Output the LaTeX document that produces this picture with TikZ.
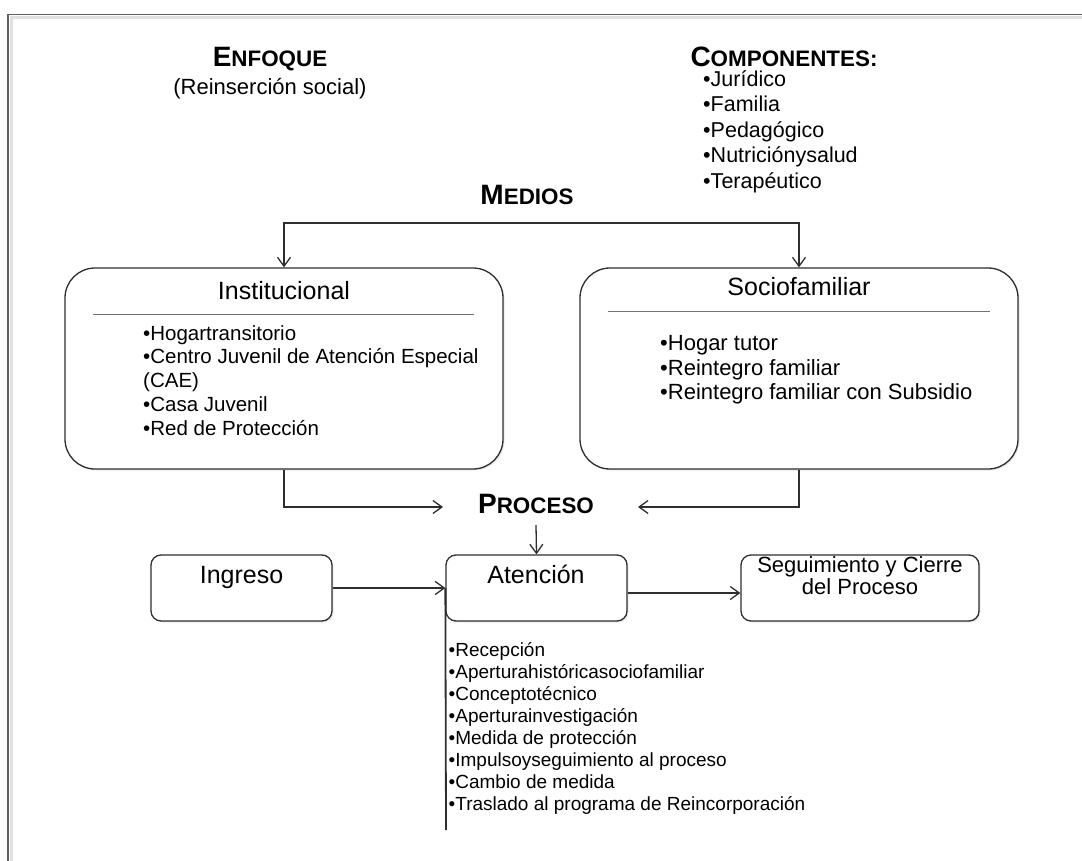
\documentclass[tikz,border=0pt]{standalone}
\usepackage{fontspec}
\setmainfont{Liberation Sans}
\usetikzlibrary{arrows.meta,shadows}
\newcommand\hdr[2]{{\fontsize{28}{30}\selectfont\bfseries #1}{\fontsize{22.4}{30}\selectfont\bfseries #2}}
\newcommand\fs[1]{\fontsize{#1}{#1}\selectfont}
\definecolor{lnc}{HTML}{2E2E2E}
\tikzset{
  arr/.style={-{Straight Barb[length=9pt,width=13pt]}, line width=1.3pt, draw=lnc},
  arrs/.style={{Straight Barb[length=9pt,width=13pt]}-{Straight Barb[length=9pt,width=13pt]}, line width=1.3pt, draw=lnc},
  plain/.style={line width=1.3pt, draw=lnc},
  sepline/.style={line width=0.8pt, draw=black!55},
  bigbox/.style={draw=lnc, line width=1.3pt, fill=white, rounded corners=30pt, inner sep=0pt,
    drop shadow={shadow xshift=1.5pt, shadow yshift=-1.5pt, opacity=0.18}},
  smallbox/.style={draw=lnc, line width=1.3pt, fill=white, rounded corners=10pt, inner sep=0pt,
    drop shadow={shadow xshift=1.5pt, shadow yshift=-1.5pt, opacity=0.18}},
  txt/.style={inner sep=0pt, anchor=base},
  itm/.style={inner sep=0pt, anchor=base west},
}
\begin{document}
\begin{tikzpicture}[x=1pt,y=-1pt]
\useasboundingbox (0,0) rectangle (1082,861);
% frame
\draw[black!12, line width=3pt] (1082,18) -- (11,18) -- (11,861);
\draw[black!62, line width=1.8pt] (1082,14.5) -- (7.6,14.5) -- (7.6,861);

% headers
\node[txt] (enf) at (270,67) {\hdr{E}{NFOQUE}};
\node[txt] (reins) at (270,95) {\fs{22}(Reinserción social)};
\node[txt] (comp) at (784,67) {\hdr{C}{OMPONENTES:}};
\foreach \t [count=\i] in {Jurídico,Familia,Pedagógico,Nutriciónysalud,Terapéutico}
  \node[itm] (comp\i) at (703,{61+25.5*\i}) {\fs{21.5}•\t};
\node[txt] (medios) at (527,205) {\hdr{M}{EDIOS}};

% big boxes
\node[bigbox, minimum width=438pt, minimum height=201pt] (inst) at (284,368.5) {};
\node[bigbox, minimum width=438pt, minimum height=201pt] (socio) at (799,368.5) {};
\node[txt] (insttitle) at (284,299) {\fs{25}Institucional};
\draw[sepline] (93,314) -- (474,314);
\node[itm] (inst1) at (143,340) {\fs{20.5}•Hogartransitorio};
\node[itm] (inst2) at (143,363.5) {\fs{20.5}•Centro Juvenil de Atención Especial};
\node[itm] (inst3) at (143,387) {\fs{20.5}(CAE)};
\node[itm] (inst4) at (143,411) {\fs{20.5}•Casa Juvenil};
\node[itm] (inst5) at (143,435) {\fs{20.5}•Red de Protección};

\node[txt] (sociotitle) at (799,295) {\fs{25}Sociofamiliar};
\draw[sepline] (608,311) -- (990,311);
\node[itm] (socio1) at (660,350) {\fs{22}•Hogar tutor};
\node[itm] (socio2) at (660,375) {\fs{22}•Reintegro familiar};
\node[itm] (socio3) at (660,399.5) {\fs{22}•Reintegro familiar con Subsidio};

% medios connector
\coordinate (mm) at (527,223);
\draw[arrs] (inst.north) |- (mm) -| (socio.north);

% proceso
\node[txt] (proceso) at (536,513) {\hdr{P}{ROCESO}};
\coordinate (pL) at (443,507);
\coordinate (pR) at (638,507);
\draw[arr] (inst.south) |- (pL);
\draw[arr] (socio.south) |- (pR);

% small boxes
\node[smallbox, minimum width=181pt, minimum height=66pt] (ingreso) at (241.5,588) {};
\node[smallbox, minimum width=181pt, minimum height=66pt] (atencion) at (536.5,588) {};
\node[smallbox, minimum width=238pt, minimum height=66pt] (seg) at (860,588) {};
\node[txt] (ingresot) at (241.5,583) {\fs{25}Ingreso};
\node[txt] (atenciont) at (536,583) {\fs{25}Atención};
\node[txt] (seg1) at (860,572) {\fs{22}Seguimiento y Cierre};
\node[txt] (seg2) at (860,594) {\fs{22}del Proceso};

\draw[arr] ([yshift=-12pt]proceso.base) -- (atencion.north);
\draw[arr] (ingreso.east) -- (atencion.west);
\draw[arr] ([yshift=-5pt]atencion.east) -- ([yshift=-5pt]seg.west);

% atencion list
\coordinate (vend) at (446,830);
\draw[line width=1.8pt, draw=lnc] (atencion.west) -- (vend);
\foreach \t [count=\i] in {Recepción,Aperturahistóricasociofamiliar,Conceptotécnico,Aperturainvestigación,Medida de protección,Impulsoyseguimiento al proceso,Cambio de medida,Traslado al programa de Reincorporación}
  \node[itm] (at\i) at (448.5,{635+21.9*\i}) {\fs{19}•\t};
\end{tikzpicture}
\end{document}
